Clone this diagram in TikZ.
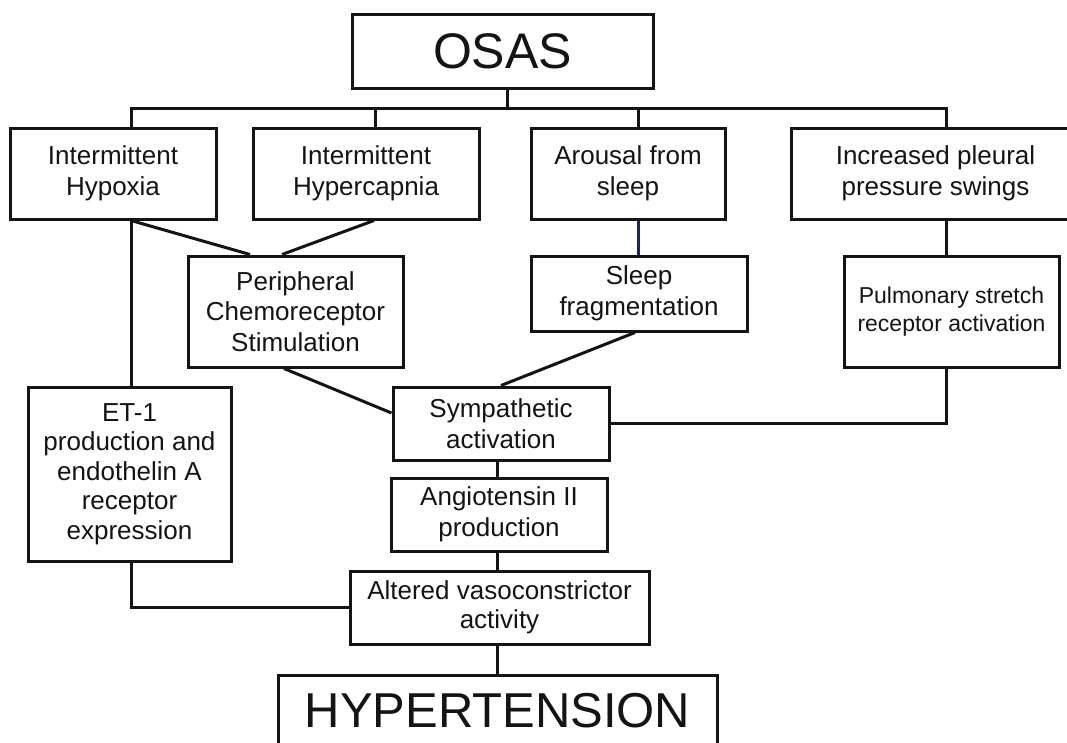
\documentclass[tikz,border=0pt]{standalone}
\usepackage{fontspec}
\setmainfont{Liberation Sans}
\usetikzlibrary{calc}
\definecolor{ink}{HTML}{141414}
\definecolor{navy}{HTML}{1E1E78}
\tikzset{
  box/.style={draw=ink, line width=3pt, align=center, inner sep=0pt, text=ink,
              font=\fontsize{26}{30.5}\selectfont},
  smallbox/.style={box, font=\fontsize{23}{28}\selectfont},
  bigbox/.style={box, font=\fontsize{50}{56}\selectfont},
  link/.style={draw=ink, line width=3pt},
}
\begin{document}
\begin{tikzpicture}[x=1pt, y=-1pt]
  \useasboundingbox (0,0) rectangle (1067,742);
  \fill[white] (0,0) rectangle (1067,742);
  \clip (0,0) rectangle (1067,742);

  % top cause
  \node[bigbox, minimum width=301pt, minimum height=74pt] (osas) at (502.5,51) {OSAS};

  % first level mechanisms
  \node[box, minimum width=206pt, minimum height=91pt] (hypox)    at (113,173.5)   {Intermittent\\Hypoxia};
  \node[box, minimum width=226pt, minimum height=91pt] (hypercap) at (366,173.5)   {Intermittent\\Hypercapnia};
  \node[box, minimum width=194pt, minimum height=91pt] (arousal)  at (628,173.5)   {Arousal from\\sleep};
  \node[box, minimum width=289pt, minimum height=91pt] (pleural)  at (935.5,173.5) {Increased pleural\\pressure swings};

  % second level
  \node[box, minimum width=215pt, minimum height=111pt] (periph) at (295.5,311.5) {Peripheral\\Chemoreceptor\\Stimulation};
  \node[box, minimum width=216pt, minimum height=75pt]  (sleep)  at (639,293.5)   {Sleep\\fragmentation};
  \node[smallbox, minimum width=215pt, minimum height=111pt] (pulm) at (951.5,311.5) {Pulmonary stretch\\receptor activation};

  % lower chain
  \node[box, font=\fontsize{26}{29.5}\selectfont, minimum width=203pt, minimum height=174pt] (et1) at (129.5,474)
    {ET-1\\production and\\endothelin A\\receptor\\expression};
  \node[box, minimum width=216pt, minimum height=73pt] (symp)    at (501,423.5)   {Sympathetic\\activation};
  \node[box, minimum width=216pt, minimum height=73pt] (angio)   at (499,514.5)   {Angiotensin II\\production};
  \node[box, font=\fontsize{26}{29}\selectfont, minimum width=299pt, minimum height=73pt] (altered) at (499.5,607.5) {Altered vasoconstrictor\\activity};

  % outcome
  \node[bigbox, font=\fontsize{49}{55}\selectfont, minimum width=439pt, minimum height=71pt] (hyper) at (497.5,710.5) {HYPERTENSION};

  % bus under OSAS
  \coordinate (j0) at (507,108);
  \coordinate (b1) at (131,108);
  \coordinate (b2) at (375,108);
  \coordinate (b3) at (638,108);
  \coordinate (b4) at (946,108);
  \coordinate (spine) at (497,0);

  \draw[link] (osas.south -| j0) -- (j0);
  \draw[link] (b1 |- hypox.north) -- (b1) -- (b4) -- (b4 |- pleural.north);
  \draw[link] (b2) -- (b2 |- hypercap.north);
  \draw[link] (b3) -- (b3 |- arousal.north);

  % hypoxia / hypercapnia to chemoreceptors and ET-1
  \draw[link] (hypox.south -| b1) -- (et1.north -| b1);
  \draw[link] (hypox.south -| b1) -- ($(periph.north)+(-45.5,0)$);
  \draw[link] ($(hypercap.south)+(8,0)$) -- ($(periph.north)+(-13.5,0)$);

  % arousal chain
  \draw[draw=navy, line width=3pt] (arousal.south -| b3) -- (sleep.north -| b3);
  \draw[link] ($(sleep.south)+(-4,0)$) -- (symp.north);

  % chemoreceptors to sympathetic activation
  \draw[link] ($(periph.south)+(-11.5,0)$) -- ($(symp.west)+(0,-10.5)$);

  % pleural pressure chain
  \draw[link] (pleural.south -| b4) -- (pulm.north -| b4);
  \draw[link] (pulm.south -| b4) |- (symp.east);

  % central spine
  \draw[link] (symp.south -| spine) -- (angio.north -| spine);
  \draw[link] (angio.south -| spine) -- (altered.north -| spine);
  \draw[link] (altered.south -| spine) -- (hyper.north -| spine);

  % endothelin branch
  \draw[link] (et1.south -| b1) |- (altered.west);
\end{tikzpicture}
\end{document}
